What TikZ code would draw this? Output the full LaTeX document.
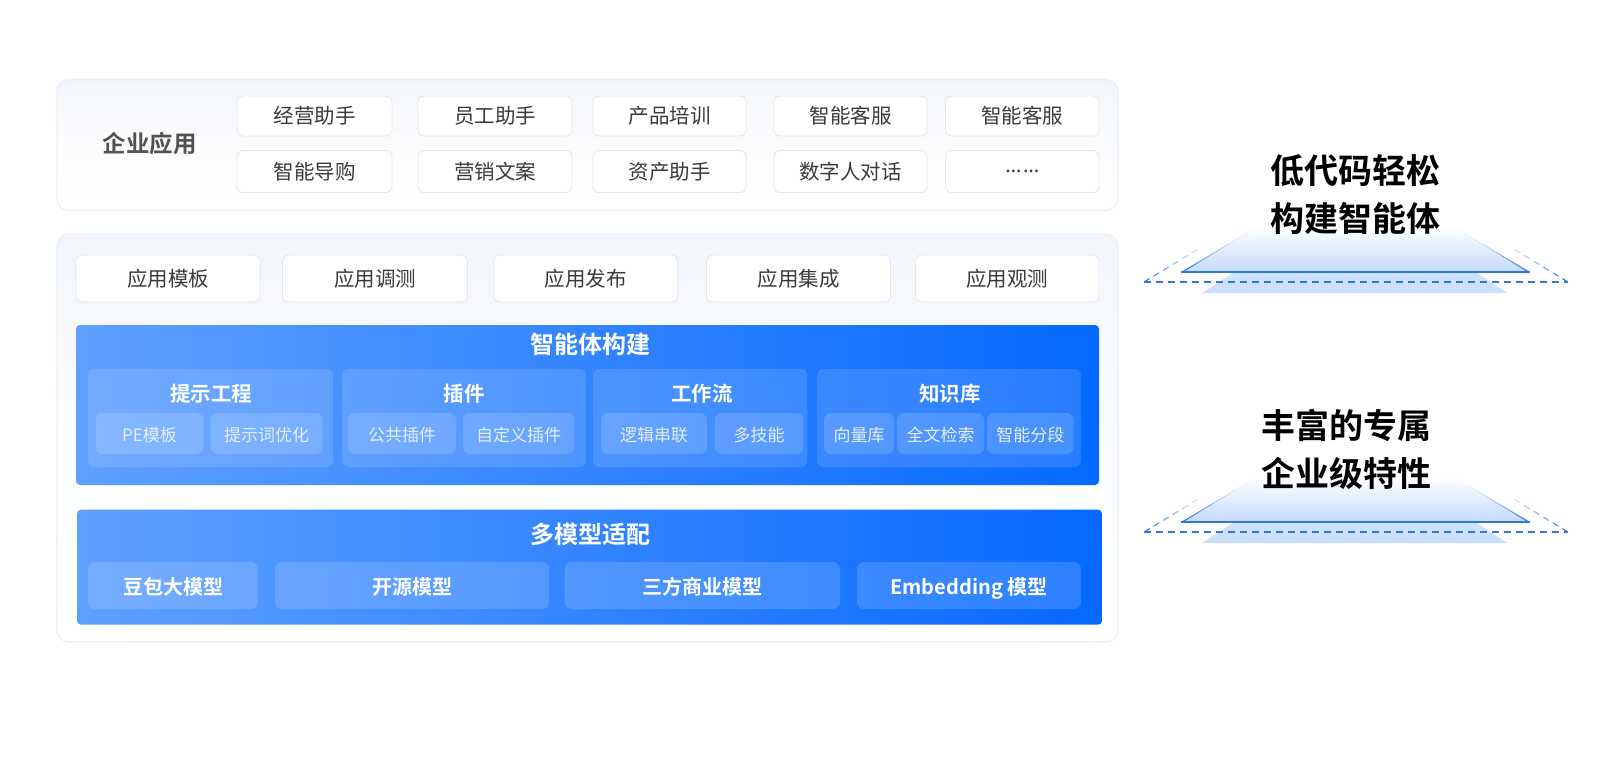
\documentclass[tikz,border=0pt]{standalone}
\usepackage{fontspec}
\setmainfont{Noto Sans CJK SC}[BoldFont={Noto Sans CJK SC Bold}]
\newfontfamily\dotsfont{Noto Sans}[LetterSpace=7]
\usetikzlibrary{
    shapes,
    calc
}
\definecolor{panelline}{HTML}{E8F0FB}
\definecolor{paneltop}{HTML}{F2F5FA}
\definecolor{btnline}{HTML}{E3E6EB}
\definecolor{btntext}{HTML}{3A3A3A}
\definecolor{blueleft}{HTML}{5FA0FF}
\definecolor{blueright}{HTML}{0669FF}
\definecolor{edgeblue}{HTML}{2F78E4}
\definecolor{trapblue}{HTML}{C4DBFB}
\definecolor{chiptext}{HTML}{E3EEFF}
\tikzset{
  panel/.style = {
      rectangle,
      draw=panelline,
      rounded corners=12pt,
      top color=paneltop,
      bottom color=white,
      middle color=white!70!paneltop,
      line width=1.2pt
  },
  btn/.style = {
      rectangle,
      draw=btnline,
      fill=white,
      rounded corners=6pt,
      text=btntext,
      font=\fontsize{20.5}{24}\selectfont,
      inner sep=0pt,
      line width=.8pt
  },
  bluebox/.style = {
      rectangle,
      rounded corners=4pt,
      left color=blueleft,
      right color=blueright
  },
  group/.style = {
      rectangle,
      fill=white,
      fill opacity=0.13,
      rounded corners=7pt,
      inner sep=0pt
  },
  chip/.style = {
      rectangle,
      fill=white,
      fill opacity=0.15,
      text opacity=1,
      text=chiptext,
      rounded corners=7pt,
      inner sep=0pt,
      text height=17.5pt,
      text depth=2.5pt,
      minimum height=41pt,
      font=\fontsize{17}{20}\selectfont
  },
  modelchip/.style = {
      chip,
      text=white,
      text height=20pt,
      text depth=2.6pt,
      minimum height=47pt,
      font=\fontsize{20}{24}\selectfont\bfseries
  },
  bluetitle/.style = {
      text=white,
      font=\fontsize{24}{28}\selectfont\bfseries
  },
  subtitle/.style = {
      text=white,
      font=\fontsize{20.5}{24}\selectfont\bfseries
  },
  sidetitle/.style = {
      text=black,
      font=\fontsize{34}{40}\selectfont\bfseries
  }
}
\begin{document}
\begin{tikzpicture}[x=1pt,y=-1pt]
    \useasboundingbox (0,0) rectangle (1611,769);
    % Enterprise panel
    \node[panel, minimum width=1061pt, minimum height=131pt] (apps) at (587.5,145) {};
    \node[text=black!68, font=\fontsize{23.5}{28}\selectfont\bfseries] (appstitle) at (149.5,144) {企业应用};
    \node[btn, minimum width=155pt, minimum height=40pt] (a1) at (314.5,116) {经营助手};
    \node[btn, minimum width=154pt, minimum height=40pt] (a2) at (495,116) {员工助手};
    \node[btn, minimum width=153pt, minimum height=40pt] (a3) at (669.5,116) {产品培训};
    \node[btn, minimum width=153pt, minimum height=40pt] (a4) at (850.5,116) {智能客服};
    \node[btn, minimum width=153.5pt, minimum height=40pt] (a5) at (1022.3,116) {智能客服};
    \node[btn, minimum width=155pt, minimum height=42pt] (b1) at (314.5,171.5) {智能导购};
    \node[btn, minimum width=154pt, minimum height=42pt] (b2) at (495,171.5) {营销文案};
    \node[btn, minimum width=153pt, minimum height=42pt] (b3) at (669.5,171.5) {资产助手};
    \node[btn, minimum width=153pt, minimum height=42pt] (b4) at (850.5,171.5) {数字人对话};
    \node[btn, minimum width=153.5pt, minimum height=42pt, font=\fontsize{20.5}{24}\dotsfont] (b5) at (1022.3,171.5) {……};
    % Platform panel
    \node[panel, minimum width=1061pt, minimum height=408pt] (platform) at (587.5,438) {};
    \node[btn, minimum width=184pt, minimum height=47pt] (t1) at (168,278.5) {应用模板};
    \node[btn, minimum width=185pt, minimum height=47pt] (t2) at (375,278.5) {应用调测};
    \node[btn, minimum width=184pt, minimum height=47pt] (t3) at (585.7,278.5) {应用发布};
    \node[btn, minimum width=184pt, minimum height=47pt] (t4) at (798.5,278.5) {应用集成};
    \node[btn, minimum width=183.5pt, minimum height=47pt] (t5) at (1007.3,278.5) {应用观测};
    % Agent building
    \node[bluebox, minimum width=1023pt, minimum height=160pt] (agent) at (587.5,405) {};
    \node[bluetitle] (agenttitle) at (590.5,344) {智能体构建};
    \node[group, minimum width=245pt, minimum height=98.5pt] (g1) at (210.5,418) {};
    \node[group, minimum width=244pt, minimum height=98.5pt] (g2) at (464,418) {};
    \node[group, minimum width=214.5pt, minimum height=98.5pt] (g3) at (700.2,418) {};
    \node[group, minimum width=264pt, minimum height=98.5pt] (g4) at (949,418) {};
    \node[subtitle] (g1title) at (211,394) {提示工程};
    \node[subtitle] (g2title) at (464,394) {插件};
    \node[subtitle] (g3title) at (702,394) {工作流};
    \node[subtitle] (g4title) at (950,394) {知识库};
    \node[chip, minimum width=108pt] (c1) at (149.5,433.5) {PE模板};
    \node[chip, minimum width=112pt] (c2) at (266.6,433.5) {提示词优化};
    \node[chip, minimum width=108pt] (c3) at (402,433.5) {公共插件};
    \node[chip, minimum width=111pt] (c4) at (518.5,433.5) {自定义插件};
    \node[chip, minimum width=106pt] (c5) at (654,433.5) {逻辑串联};
    \node[chip, minimum width=88.5pt] (c6) at (759.2,433.5) {多技能};
    \node[chip, minimum width=70pt] (c7) at (859,433.5) {向量库};
    \node[chip, minimum width=87pt] (c8) at (940.5,433.5) {全文检索};
    \node[chip, minimum width=86.6pt] (c9) at (1030.3,433.5) {智能分段};
    % Model adaptation
    \node[bluebox, minimum width=1025pt, minimum height=115pt] (models) at (589.5,567.2) {};
    \node[bluetitle] (modelstitle) at (590.5,534.5) {多模型适配};
    \node[modelchip, minimum width=170pt] (m1) at (173,585.5) {豆包大模型};
    \node[modelchip, minimum width=274pt] (m2) at (412,585.5) {开源模型};
    \node[modelchip, minimum width=275pt] (m3) at (702.5,585.5) {三方商业模型};
    \node[modelchip, minimum width=224pt] (m4) at (969,585.5) {Embedding 模型};
    % Stages
    \foreach \yy/\nm in {0/up, 250/low} {
      \begin{scope}[shift={(0,\yy)}]
        \coordinate (\nm dl) at (1144,282);
        \coordinate (\nm dr) at (1568,282);
        \coordinate (\nm bl) at (1181,272);
        \coordinate (\nm br) at (1530,272);
        \coordinate (\nm tl) at (1257,227);
        \coordinate (\nm tr) at (1454,227);
        \coordinate (\nm fl) at (1200,248);
        \coordinate (\nm fr) at (1512,248);
        % lower plate
        \shade[top color=trapblue!80, bottom color=trapblue!90]
          (1233,273) -- (1477,273) -- (1507,293) -- (1202,293) -- cycle;
        \draw[edgeblue, line width=1.1pt, dash pattern=on 7pt off 5pt] (\nm dl) -- (\nm dr);
        % upper plate
        \shade[top color=white, bottom color=trapblue] (\nm tl) -- (\nm tr) -- (\nm br) -- (\nm bl) -- cycle;
        \shade[top color=white, bottom color=edgeblue] (\nm tl) -- (\nm bl) -- ($(\nm bl)+(2.5,0)$) -- cycle;
        \shade[top color=white, bottom color=edgeblue] (\nm tr) -- (\nm br) -- ($(\nm br)+(-2.5,0)$) -- cycle;
        \draw[edgeblue, line width=1.4pt] (\nm bl) -- (\nm br);
        % fading dashes
        \foreach \t in {0,0.17,0.34,0.51,0.68,0.85} {
          \draw[edgeblue, line width=1.1pt, opacity=1-0.9*\t]
            ($(\nm dl)!\t!(\nm fl)$) -- ($(\nm dl)!\t+0.1!(\nm fl)$);
          \draw[edgeblue, line width=1.1pt, opacity=1-0.9*\t]
            ($(\nm dr)!\t!(\nm fr)$) -- ($(\nm dr)!\t+0.1!(\nm fr)$);
        }
      \end{scope}
    }
    \node[sidetitle] (s1a) at (1355,170.5) {低代码轻松};
    \node[sidetitle] (s1b) at (1355,218) {构建智能体};
    \node[sidetitle] (s2a) at (1346,425) {丰富的专属};
    \node[sidetitle] (s2b) at (1346,473.5) {企业级特性};
\end{tikzpicture}
\end{document}
